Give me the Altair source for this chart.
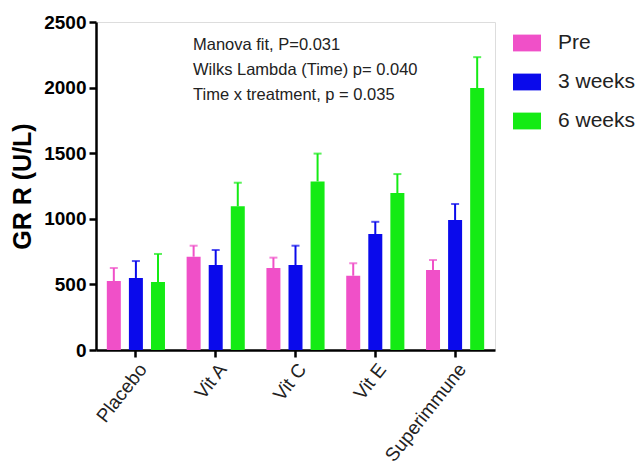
import altair as alt
import pandas as pd

groups = ["Placebo", "Vit A", "Vit C", "Vit E", "Superimmune"]
series = ["Pre", "3 weeks", "6 weeks"]
pre_mean = [526, 711, 625, 566, 610]
pre_err = [99, 84, 79, 95, 76]
w3_mean = [549, 648, 648, 884, 991]
w3_err = [129, 114, 147, 93, 122]
w6_mean = [518, 1095, 1285, 1196, 1996]
w6_err = [214, 180, 212, 145, 236]
colors = ["#F050C8", "#0A0AEB", "#14EB14"]
y_ticks = [0, 500, 1000, 1500, 2000, 2500]
annotation = "Manova fit, P=0.031\nWilks Lambda (Time) p= 0.040\nTime x treatment, p = 0.035"

rows = []
for s, means, errs in zip(series, [pre_mean, w3_mean, w6_mean], [pre_err, w3_err, w6_err]):
    for g, m, e in zip(groups, means, errs):
        rows.append({"group": g, "series": s, "mean": m, "upper": m + e})
df = pd.DataFrame(rows)

FONT = "Liberation Sans"

x_enc = alt.X("group:N", sort=groups, title=None,
              scale=alt.Scale(paddingInner=0.17, paddingOuter=0.085),
              axis=alt.Axis(labelAngle=-52, labelAlign="right", labelBaseline="top",
                            labelFontSize=19, labelFont=FONT, labelColor="#222",
                            labelPadding=3, tickSize=7, tickWidth=2.5, tickColor="black",
                            domainWidth=2.5, domainColor="black"))
xo_enc = alt.XOffset("series:N", sort=series,
                     scale=alt.Scale(paddingInner=0.36, paddingOuter=0.18))
color_enc = alt.Color("series:N", sort=series,
                      scale=alt.Scale(domain=series, range=colors),
                      legend=alt.Legend(title=None, orient="none", legendX=417, legendY=7,
                                        symbolType="M-1,-0.6L1,-0.6L1,0.6L-1,0.6Z",
                                        symbolSize=784, symbolStrokeWidth=0,
                                        labelFontSize=21, labelFont=FONT, labelColor="#222",
                                        labelOffset=17, rowPadding=15, padding=0))

base = alt.Chart(df)

bars = base.mark_bar(size=14).encode(
    x=x_enc,
    xOffset=xo_enc,
    y=alt.Y("mean:Q", title="GR R (U/L)",
            scale=alt.Scale(domain=[0, 2500], nice=False),
            axis=alt.Axis(values=y_ticks, format="d", grid=False, labelFontSize=19,
                          labelFontWeight="bold",
                          labelFont=FONT, labelColor="black", labelPadding=3,
                          tickSize=7, tickWidth=2.5, tickColor="black",
                          domainWidth=2.5, domainColor="black",
                          titleFontSize=25, titleFontWeight="bold", titleFont=FONT,
                          titleColor="black", titlePadding=8)),
    color=color_enc,
)

rules = base.mark_rule(strokeWidth=2).encode(
    x=alt.X("group:N", sort=groups),
    xOffset=xo_enc,
    y="mean:Q",
    y2="upper:Q",
    color=alt.Color("series:N", sort=series, legend=None),
)

caps = base.mark_tick(size=8, thickness=2).encode(
    x=alt.X("group:N", sort=groups),
    xOffset=xo_enc,
    y="upper:Q",
    color=alt.Color("series:N", sort=series, legend=None),
)

text = alt.Chart(pd.DataFrame({"t": [annotation]})).mark_text(
    align="left", baseline="alphabetic", fontSize=16.5, font=FONT, color="#222",
    lineBreak="\n", lineHeight=25, text=annotation
).encode(x=alt.value(97), y=alt.value(28))

chart = alt.layer(bars, rules, caps, text).properties(
    width=399, height=328,
    autosize=alt.AutoSizeParams(type="none"),
    padding={"left": 96, "top": 22, "right": 143, "bottom": 126},
).configure_view(stroke=None).configure(background="white")

chart.save("out.html", embed_options={"renderer": "svg", "actions": False})
